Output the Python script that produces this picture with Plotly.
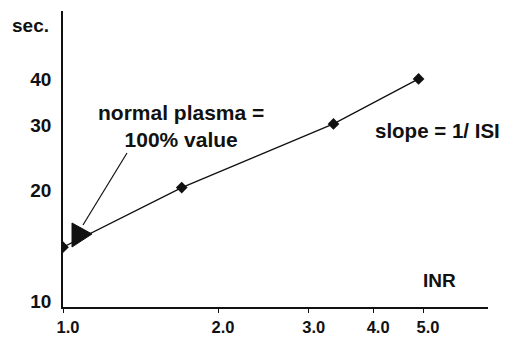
import plotly.graph_objects as go

# Data (log-log calibration plot)
inr_values = [1.0, 1.7, 3.35, 4.9]
seconds = [14.0, 20.3, 30.2, 40.0]
x_tick_vals = [1.0, 2.0, 3.0, 4.0, 5.0]
x_tick_text = ["1.0", "2.0", "3.0", "4.0", "5.0"]
y_tick_vals = [10, 20, 30, 40]
y_tick_text = ["10", "20", "30", "40"]

FONT = "Liberation Sans, Arial, sans-serif"
INK = "#111111"

fig = go.Figure()
fig.add_trace(go.Scatter(
    x=inr_values, y=seconds, mode="lines+markers",
    line=dict(color=INK, width=1.3),
    marker=dict(symbol="diamond", size=9, color=INK),
    showlegend=False, hoverinfo="skip",
))

fig.update_layout(
    width=508, height=338,
    margin=dict(l=63, r=20, t=11, b=31, autoexpand=False),
    paper_bgcolor="white", plot_bgcolor="white",
    font=dict(family=FONT, color=INK, size=19, weight="bold"),
    xaxis=dict(
        type="log", range=[0, 0.825], automargin=False,
        tickvals=x_tick_vals, ticktext=x_tick_text,
        ticks="outside", ticklen=4, tickwidth=1, tickcolor=INK,
        showline=True, linecolor=INK, linewidth=1.5,
        showgrid=False, zeroline=False,
        ticklabelshift=5, ticklabelstandoff=0,
        tickfont=dict(family=FONT, size=16.5, color=INK, weight="bold"),
    ),
    yaxis=dict(
        type="log", range=[0.984, 1.786], automargin=False,
        tickvals=y_tick_vals, ticktext=y_tick_text,
        ticks="", showline=True, linecolor=INK, linewidth=1.5,
        showgrid=False, zeroline=False,
        ticklabelstandoff=6,
        tickfont=dict(family=FONT, size=19, color=INK, weight="bold"),
    ),
)

def note(text, x, y, size=19):
    fig.add_annotation(
        text=text, xref="paper", yref="paper", x=x, y=y,
        xanchor="center", yanchor="middle", showarrow=False, align="center",
        font=dict(family=FONT, size=size, color=INK, weight="bold"),
    )

# plot area spans 11..307 px vertically (296 px), 63..488 px horizontally
note("sec.", -0.0765, 0.951)
note("INR", 0.885, 0.091)
note("slope = 1/ ISI", 0.88, 0.595, size=20.5)
note("normal plasma =<br>100% value", 0.278, 0.613, size=21)

# pointer line from the label to the arrowhead
fig.add_shape(type="line", xref="paper", yref="paper",
              x0=0.1506, y0=0.5203, x1=0.047, y1=0.277,
              line=dict(color=INK, width=1.2))
# right-pointing filled arrowhead
fig.add_shape(type="path", xref="paper", yref="paper",
              path="M 0.0212,0.2838 L 0.0212,0.2027 L 0.0682,0.2466 Z",
              fillcolor=INK, line=dict(color=INK, width=1))

fig.write_html(
    "out.html",
    config={"displayModeBar": False},
    post_script="document.body.style.margin='0';document.body.style.overflow='hidden';",
)
